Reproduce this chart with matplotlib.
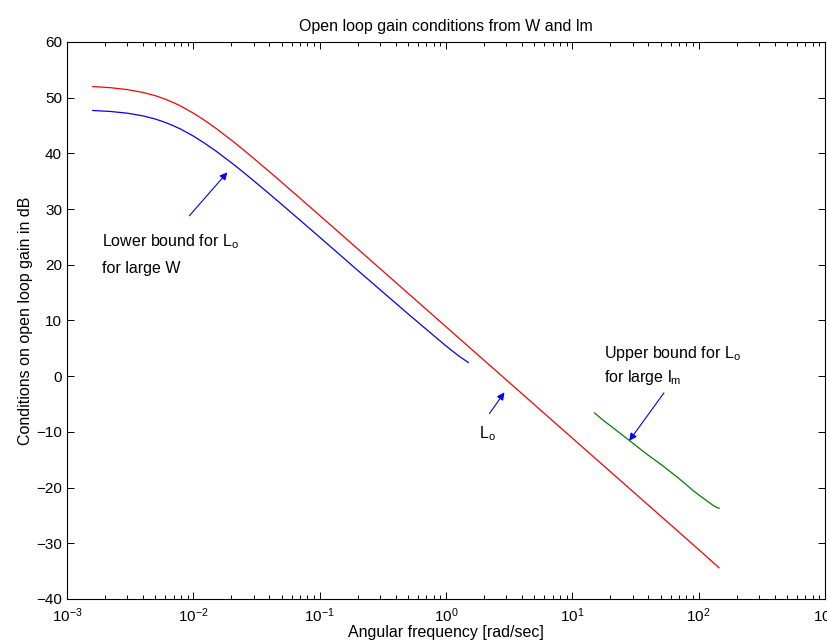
import matplotlib
matplotlib.use("Agg")
import matplotlib.pyplot as plt
from matplotlib.ticker import LogLocator, NullFormatter, FixedLocator

plt.rcParams["font.family"] = ["Liberation Sans", "DejaVu Sans"]
plt.rcParams["font.size"] = 11.5
plt.rcParams["mathtext.default"] = "regular"

# L_o (rouge)
freq_lo = [0.0016, 0.0022, 0.003, 0.004, 0.005, 0.006, 0.007, 0.008, 0.01,
           0.012, 0.015, 0.02, 0.025, 0.03, 0.04, 0.05, 0.07, 0.1,
           0.2, 0.5, 1.0, 2.0, 5.0, 10.0, 20.0, 50.0, 100.0, 145.0]
gain_lo = [52.00, 51.80, 51.46, 50.94, 50.36, 49.73, 49.09, 48.46, 47.23,
           46.09, 44.55, 42.39, 40.61, 39.12, 36.72, 34.82, 31.94, 28.86,
           22.86, 14.90, 8.88, 2.86, -5.10, -11.12, -17.14, -25.10, -31.12, -34.40]

# borne inférieure pour grand W (bleu)
freq_w = [0.0016, 0.0022, 0.003, 0.004, 0.005, 0.006, 0.007, 0.008, 0.01,
          0.012, 0.015, 0.02, 0.025, 0.03, 0.04, 0.05, 0.07, 0.1,
          0.2, 0.5, 1.0, 1.25, 1.5]
gain_w = [47.70, 47.53, 47.22, 46.73, 46.17, 45.56, 44.93, 44.32, 43.11,
          41.98, 40.47, 38.33, 36.58, 35.10, 32.73, 30.85, 28.00, 24.96,
          19.00, 11.20, 5.43, 3.70, 2.46]

# borne supérieure pour grand lm (vert)
freq_lm = [15.0, 17.5, 20.0, 25.0, 30.0, 35.0, 40.0, 50.0, 60.0, 70.0,
           80.0, 90.0, 100.0, 110.0, 120.0, 130.0, 140.0, 145.0]
gain_lm = [-6.6, -7.9, -8.9, -10.6, -12.0, -13.2, -14.2, -15.8, -17.2, -18.4,
           -19.5, -20.5, -21.3, -22.0, -22.6, -23.2, -23.6, -23.7]

y_ticks = [-40, -30, -20, -10, 0, 10, 20, 30, 40, 50, 60]


fig = plt.figure(figsize=(8.28, 6.44), dpi=100)
ax = fig.add_axes([0.0809, 0.0699, 0.9155, 0.8649])

ax.semilogx(freq_lo, gain_lo, color="red", linewidth=0.9)
ax.semilogx(freq_w, gain_w, color="blue", linewidth=0.9)
ax.semilogx(freq_lm, gain_lm, color=(0, 0.5, 0), linewidth=0.9)

ax.set_xlim(1e-3, 1e3)
ax.set_ylim(-40, 60)
ax.yaxis.set_major_locator(FixedLocator(y_ticks))
ax.xaxis.set_major_locator(LogLocator(base=10, numticks=10))
ax.xaxis.set_minor_locator(LogLocator(base=10, subs=range(2, 10), numticks=20))
ax.xaxis.set_minor_formatter(NullFormatter())
ax.tick_params(which="both", direction="in", top=True, right=True, labelsize=11)
ax.tick_params(which="major", length=5, width=0.7)
ax.tick_params(which="minor", length=3, width=0.7)
ax.tick_params(axis="x", pad=5)
for spine in ax.spines.values():
    spine.set_linewidth(0.8)

fleche = dict(arrowstyle="-|>", color="blue", lw=0.8, mutation_scale=11,
              shrinkA=0, shrinkB=0)

ax.annotate("", xy=(0.0186, 36.6), xytext=(0.0093, 28.8), arrowprops=fleche)
ax.text(0.00188, 24.1, "Lower bound for $L_o$", va="center", ha="left")
ax.text(0.00188, 19.4, "for large W", va="center", ha="left")

ax.annotate("", xy=(2.9, -2.9), xytext=(2.21, -6.7), arrowprops=fleche)
ax.text(1.81, -10.4, "$L_o$", va="center", ha="left")

ax.annotate("", xy=(28.2, -11.6), xytext=(53.1, -3.0), arrowprops=fleche)
ax.text(17.7, 4.1, "Upper bound for $L_o$", va="center", ha="left")
ax.text(17.7, -0.2, "for large $l_m$", va="center", ha="left")

ax.set_title("Open loop gain conditions from W and lm", fontsize=11.5, pad=8)
ax.set_xlabel("Angular frequency [rad/sec]", labelpad=0)
ax.set_ylabel("Conditions on open loop gain in dB", labelpad=2)

fig.savefig("out.png", dpi=100)
